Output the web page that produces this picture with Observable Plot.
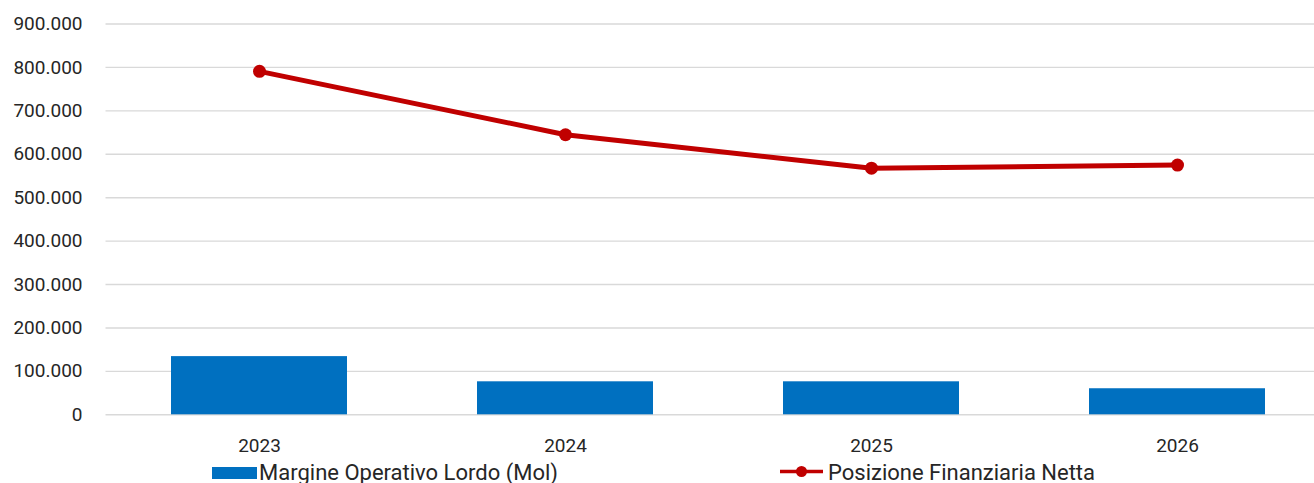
<!DOCTYPE html>
<html>
<head>
<meta charset="utf-8">
<script src="https://cdn.jsdelivr.net/npm/d3@7"></script>
<script src="https://cdn.jsdelivr.net/npm/@observablehq/plot@0.6"></script>
<style>
  html, body { margin: 0; padding: 0; background: #fff; overflow: hidden; }
  body { width: 1314px; height: 483px; position: relative; font-family: Roboto, sans-serif; }
  #legend { position: absolute; left: 0; top: 0; width: 1314px; height: 483px; pointer-events: none; }
  .lg-text { position: absolute; font-family: Roboto, sans-serif; font-size: 22px; color: #262626; line-height: 1; white-space: nowrap; }
</style>
</head>
<body>
<div id="chart"></div>
<div id="legend"></div>
<script>
const years = ["2023", "2024", "2025", "2026"];
const mol = [134000, 76000, 76000, 60000];          // Margine Operativo Lordo (Mol)
const pfn = [791000, 645000, 568000, 575000];       // Posizione Finanziaria Netta
const yTicks = [0, 100000, 200000, 300000, 400000, 500000, 600000, 700000, 800000, 900000];
const seriesNames = ["Margine Operativo Lordo (Mol)", "Posizione Finanziaria Netta"];
const seriesColors = ["#0070c0", "#c00000"];

const data = years.map((y, i) => ({year: y, mol: mol[i], pfn: pfn[i]}));
const it = d3.formatLocale({decimal: ",", thousands: ".", grouping: [3], currency: ["", " €"]});
const fmt = it.format(",d");

const W = 1314, H = 460;
const plot = Plot.plot({
  width: W,
  height: H,
  marginLeft: 105.5,
  marginRight: 0,
  marginTop: 23.5,
  marginBottom: H - 414.3,
  style: {fontFamily: "Roboto, sans-serif", fontSize: "19px", color: "#262626", background: "#fff"},
  x: {domain: years, range: [105.5, 1330], paddingInner: 0.425, paddingOuter: 0.2125, label: null},
  y: {domain: [0, 900000], label: null},
  marks: [
    Plot.ruleY(yTicks, {stroke: "#d9d9d9", strokeWidth: 1.4}),
    Plot.barY(data, {x: "year", y: "mol", fill: seriesColors[0]}),
    Plot.line(data, {x: "year", y: "pfn", stroke: seriesColors[1], strokeWidth: 5, strokeLinejoin: "round"}),
    Plot.dot(data, {x: "year", y: "pfn", r: 6.5, fill: seriesColors[1], stroke: "none"}),
    Plot.axisY({ticks: yTicks, tickFormat: fmt, tickSize: 0, tickPadding: 23.5, label: null, fontSize: 19}),
    Plot.axisX({tickSize: 0, tickPadding: 24, label: null, fontSize: 19})
  ]
});
document.getElementById("chart").appendChild(plot);

// Legend below the plot
const lg = document.getElementById("legend");
lg.innerHTML = `
  <div style="position:absolute;left:212px;top:467px;width:45px;height:12px;background:${seriesColors[0]}"></div>
  <div class="lg-text" style="left:259px;top:461.5px">${seriesNames[0]}</div>
  <svg style="position:absolute;left:778px;top:462px" width="48" height="20">
    <line x1="2" y1="9.5" x2="45" y2="9.5" stroke="${seriesColors[1]}" stroke-width="3.5"/>
    <circle cx="23.5" cy="9.5" r="5.5" fill="${seriesColors[1]}"/>
  </svg>
  <div class="lg-text" style="left:828px;top:461.5px">${seriesNames[1]}</div>
`;
</script>
</body>
</html>
